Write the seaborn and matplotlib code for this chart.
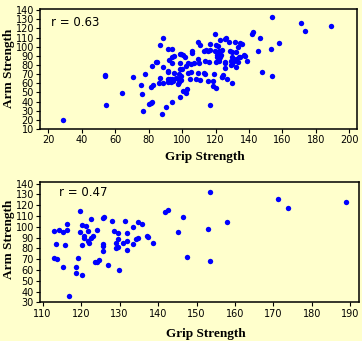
import matplotlib
matplotlib.use("Agg")
import matplotlib.pyplot as plt
import seaborn as sns
import pandas as pd

# Points with grip < 112 (only in the upper panel)
top_only_grip = [28.6, 53.9, 53.9, 54.5, 63.9, 70.5, 75.4, 76.0, 76.6, 77.7,
                 80.2, 81.3, 82.1, 81.4, 82.4, 82.0, 84.4, 85.1, 86.7, 86.6,
                 86.1, 88.5, 88.5, 87.8, 88.8, 90.3, 91.6, 94.0, 91.5, 91.5,
                 92.1, 91.3, 91.8, 92.8, 92.4, 93.3, 94.0, 94.6, 94.2, 94.0,
                 95.2, 93.8, 95.3, 96.2, 97.4, 98.0, 98.1, 98.3, 98.6, 98.9,
                 98.9, 98.7, 99.4, 99.6, 100.0, 99.5, 100.6, 101.6, 100.6, 102.5,
                 103.1, 102.5, 103.6, 105.5, 107.1, 103.6, 105.5, 104.6, 105.9, 105.9,
                 108.5, 109.5, 110.8, 109.5, 109.9, 109.5, 110.7]
top_only_arm = [20.0, 69.2, 67.7, 36.5, 49.8, 67.2, 58.5, 48.7, 30.0, 70.3,
                37.8, 39.0, 40.0, 56.4, 58.2, 79.0, 83.5, 83.5, 102.3, 66.0,
                60.8, 110.0, 78.2, 26.8, 60.8, 34.0, 98.0, 98.0, 73.6, 72.2,
                85.6, 61.2, 64.5, 64.5, 62.4, 61.6, 64.5, 62.0, 81.8, 88.5,
                90.0, 39.5, 71.0, 66.0, 59.0, 61.0, 64.5, 70.0, 76.0, 81.8,
                92.2, 45.4, 68.0, 63.7, 76.0, 92.5, 90.7, 89.2, 51.6, 49.0,
                53.5, 79.0, 82.6, 81.2, 82.6, 71.7, 72.4, 65.0, 95.7, 92.9,
                64.4, 71.7, 63.7, 86.3, 82.0, 105.3, 102.3]

# Points shown in the lower panel (grip above ~112)
high_grip = [113.0, 113.5, 113.0, 113.8, 114.3, 115.3, 116.4, 116.4, 115.9, 115.3,
             116.9, 119.7, 119.7, 120.2, 121.2, 120.7, 120.7, 120.2, 121.8, 121.8,
             122.0, 122.6, 122.6, 123.2, 119.2, 118.6, 118.6, 120.2, 124.1, 123.7,
             124.1, 124.6, 125.8, 126.0, 125.8, 125.8, 125.8, 127.0, 128.1, 128.6,
             129.1, 129.1, 129.7, 129.7, 129.7, 129.9, 131.0, 131.5, 132.0, 132.0,
             132.0, 133.6, 133.6, 134.3, 134.9, 134.9, 135.9, 137.0, 137.5, 138.8,
             141.8, 142.6, 145.3, 146.5, 147.6, 153.6, 153.0, 153.6, 158.0, 171.3,
             173.7, 188.8]
high_arm = [95.9, 84.1, 71.0, 69.8, 96.8, 94.9, 102.7, 96.8, 82.8, 62.6,
            36.2, 114.5, 95.3, 101.8, 100.8, 91.2, 89.3, 82.8, 95.9, 86.6,
            84.7, 107.1, 89.3, 91.2, 70.7, 62.6, 57.0, 54.9, 96.8, 67.3,
            67.3, 69.1, 108.3, 109.2, 83.8, 81.9, 77.2, 64.2, 105.2, 95.9,
            84.7, 80.3, 81.3, 88.4, 94.0, 59.8, 84.7, 105.2, 94.0, 86.6,
            78.2, 99.6, 83.8, 88.4, 89.3, 104.3, 102.7, 91.2, 90.3, 84.7,
            113.9, 115.8, 94.9, 109.2, 71.9, 132.5, 97.7, 68.2, 104.6, 126.0,
            117.6, 123.2]

top_xticks = [20, 40, 60, 80, 100, 120, 140, 160, 180, 200]
top_yticks = [10, 20, 30, 40, 50, 60, 70, 80, 90, 100, 110, 120, 130, 140]
bot_xticks = [110, 120, 130, 140, 150, 160, 170, 180, 190]
bot_yticks = [30, 40, 50, 60, 70, 80, 90, 100, 110, 120, 130, 140]
r_labels = ["r = 0.63", "r = 0.47"]

df_all = pd.DataFrame({"grip": top_only_grip + high_grip,
                       "arm": top_only_arm + high_arm})
df_high = pd.DataFrame({"grip": high_grip, "arm": high_arm})

BG = "#FFFFCC"
fig = plt.figure(figsize=(3.62, 3.41), dpi=100, facecolor=BG)
ax1 = fig.add_axes([40.3 / 362, 1 - 129 / 341, 317 / 362, 119.7 / 341])
ax2 = fig.add_axes([40.3 / 362, 1 - 302.3 / 341, 319 / 362, 120 / 341])

panels = [
    (ax1, df_all, (15.2, 204.8), (10, 141), top_xticks, top_yticks, r_labels[0],
     (51 - 40.3) / 317, (129 - 22) / 119.7, -0.234, 0.51),
    (ax2, df_high, (109.4, 192.3), (30, 141.3), bot_xticks, bot_yticks, r_labels[1],
     (59.3 - 40.3) / 319, (302.3 - 192.7) / 120, -0.264, 0.527),
]

for ax, df, xl, yl, xt, yt, rl, tx, ty, xly, yly in panels:
    ax.set_facecolor(BG)
    sns.scatterplot(data=df, x="grip", y="arm", ax=ax, color="#0000FF",
                    s=15, linewidth=0, marker="o", legend=False)
    ax.set_xlim(*xl)
    ax.set_ylim(*yl)
    ax.set_xticks(xt)
    ax.set_yticks(yt)
    ax.tick_params(axis="both", direction="out", length=3, width=0.8,
                   labelsize=7, pad=1.5, colors="black")
    for s in ax.spines.values():
        s.set_linewidth(1.1)
        s.set_color("black")
    ax.set_xlabel("Grip Strength", family="Liberation Serif", fontweight="bold",
                  fontsize=9.5)
    ax.set_ylabel("Arm Strength", family="Liberation Serif", fontweight="bold",
                  fontsize=9.5)
    ax.xaxis.label.set_va("center")
    ax.yaxis.label.set_va("center")
    ax.xaxis.set_label_coords(0.519, xly)
    ax.yaxis.set_label_coords(-0.099, yly)
    ax.text(tx, ty, rl, transform=ax.transAxes, ha="left", va="center",
            fontsize=8.5, family="DejaVu Sans")

fig.savefig("out.png", dpi=100, facecolor=BG)
